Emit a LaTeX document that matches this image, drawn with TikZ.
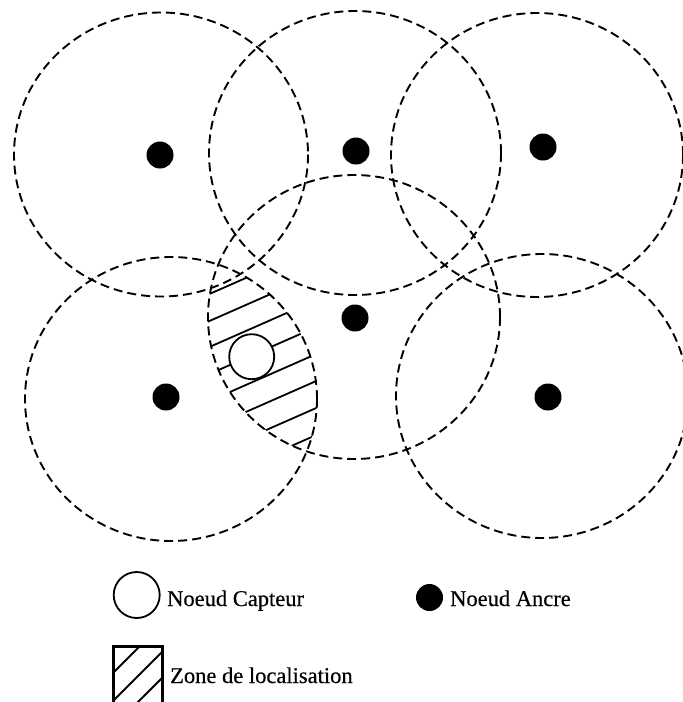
\documentclass[tikz,border=0pt]{standalone}
\usepackage{fontspec}
\setmainfont{Liberation Serif}
\newfontfamily\lblfont[FakeBold=0.4]{Liberation Serif}
\begin{document}
\begin{tikzpicture}[x=1pt,y=-1pt,
  rangecircle/.style={dash pattern=on 9pt off 5pt, line width=1.9pt},
  anchornode/.style={circle, fill=black, minimum size=27pt, inner sep=0pt},
  sensornode/.style={circle, draw=black, fill=white, line width=1.8pt, minimum size=45pt, inner sep=0pt},
  hatchline/.style={line width=1.8pt},
  lbl/.style={anchor=base west, inner sep=0pt, font=\lblfont\fontsize{22.5}{27}\selectfont}]
\useasboundingbox (0,0) rectangle (683,702);
% localisation zone hatching (lens of two ranges)
\begin{scope}
  \clip (171,399) ellipse [x radius=146, y radius=142];
  \clip (354,317) ellipse [x radius=146, y radius=142];
  \foreach \c in {293,320,346,373,400,427,454,481}
    \draw[hatchline] (180,{\c+0.44*31.7}) -- (345,{\c-0.44*133.3});
\end{scope}
% ranges
\draw[rangecircle] (161,154.5) ellipse [x radius=147, y radius=142];
\draw[rangecircle] (355,153) ellipse [x radius=146, y radius=142];
\draw[rangecircle] (537,155) ellipse [x radius=146, y radius=142];
\draw[rangecircle] (354,317) ellipse [x radius=146, y radius=142];
\draw[rangecircle] (171,399) ellipse [x radius=146, y radius=142];
\draw[rangecircle] (542,396) ellipse [x radius=146, y radius=142];
% anchors
\node[anchornode] (a1) at (160,155) {};
\node[anchornode] (a2) at (356,151) {};
\node[anchornode] (a3) at (543,147) {};
\node[anchornode] (a4) at (355,318) {};
\node[anchornode] (a5) at (166,397) {};
\node[anchornode] (a6) at (548,397) {};
% sensor
\node[sensornode] (s) at (251.7,356.7) {};
% legend
\node[sensornode, minimum size=46pt] (ls) at (136.7,595) {};
\node[lbl] (lst) at (167,606) {Noeud Capteur};
\node[anchornode] (la) at (429.5,597.5) {};
\node[lbl] (lat) at (450,606) {Noeud Ancre};
\begin{scope}
  \clip (113,646) rectangle (162,706);
  \foreach \c in {786,814,840}
    \draw[hatchline] (100,{\c-100}) -- (175,{\c-175});
\end{scope}
\draw[line width=3pt] (113,706) -- (113,646) -- (162,646) -- (162,706);
\node[lbl] (lzt) at (170,683) {Zone de localisation};
\end{tikzpicture}
\end{document}
